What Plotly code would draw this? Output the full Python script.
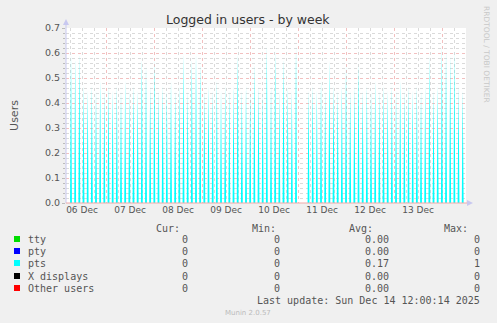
import plotly.graph_objects as go
import pandas as pd

# ---------------- data ----------------
title = "Logged in users - by week"
range_start = "2025-12-06 04:00"
range_end = "2025-12-14 11:59"
first_spike = "2025-12-06 06:30"
spike_step_minutes = 125          # spacing of the periodic logins
sample_half_minutes = 28          # half width of one rrd sample spike

# pts peak values (30 min averages), one per periodic login
pts_peaks = [
    0.60, 0.58, 0.60, 0.47, 0.45, 0.47, 0.45, 0.49, 0.45, 0.47,
    0.45, 0.47, 0.45, 0.49, 0.45, 0.47, 0.45, 0.58, 0.55, 0.47,
    0.58, 0.45, 0.47, 0.45, 0.49, 0.45, 0.47, 0.60, 0.45, 0.58,
    0.60, 0.56, 0.45, 0.47, 0.45, 0.49, 0.45, 0.47, 0.45, 0.47,
    0.60, 0.45, 0.47, 0.45, 0.56, 0.47, 0.45, 0.63, 0.47, 0.61,
    0.45, 0.58, 0.47, 0.45, 0.63, 0.00, 0.00, 0.45, 0.47, 0.45,
    0.49, 0.45, 0.57, 0.47, 0.45, 0.47, 0.56, 0.45, 0.47, 0.56,
    0.45, 0.47, 0.45, 0.49, 0.45, 0.47, 0.45, 0.47, 0.45, 0.49,
    0.45, 0.47, 0.45, 0.47, 0.45, 0.47, 0.59, 0.45, 0.47, 0.63,
    0.61, 0.59, 0.61, 0.47, 0.45,
]

series_names = ["tty", "pty", "pts", "X displays", "Other users"]
series_colors = ["#00dd00", "#0000ff", "#00ffff", "#000000", "#ff0000"]
cur_vals = ["0", "0", "0", "0", "0"]
min_vals = ["0", "0", "0", "0", "0"]
avg_vals = ["0.00", "0.00", "0.17", "0.00", "0.00"]
max_vals = ["0", "0", "1", "0", "0"]
last_update = "Last update: Sun Dec 14 12:00:14 2025"
version = "Munin 2.0.57"
y_ticks = [0.0, 0.1, 0.2, 0.3, 0.4, 0.5, 0.6, 0.7]

# ---------------- build series ----------------
half = pd.Timedelta(minutes=sample_half_minutes)
t0 = pd.Timestamp(first_spike)
xs = [pd.Timestamp(range_start)]
ys = [0.0]
for k, h in enumerate(pts_peaks):
    t = t0 + pd.Timedelta(minutes=spike_step_minutes * k)
    xs += [t - half, t, t + half]
    ys += [0.0, h, 0.0]
xs.append(pd.Timestamp(range_end))
ys.append(0.0)

W, H = 497, 323
L, R, T, B = 66, 31, 28, 120
PW, PH = W - L - R, H - T - B


def px(x):
    return (x - L) / PW


def py(y):
    return (H - B - y) / PH


fig = go.Figure()
fig.add_trace(go.Scatter(
    x=xs, y=ys, mode="lines", fill="tozeroy",
    fillcolor="#00ffff", line=dict(color="#00ffff", width=0),
    hoverinfo="skip", showlegend=False,
))

grey = "#555555"
fig.update_layout(
    width=W, height=H,
    margin=dict(l=L, r=R, t=T, b=B),
    paper_bgcolor="#f0f0f0",
    plot_bgcolor="#ffffff",
    showlegend=False,
    font=dict(family="DejaVu Sans", size=9, color=grey),
)

fig.update_xaxes(
    type="date",
    range=[range_start, range_end],
    tick0="2025-12-06", dtick=86400000,
    ticklabelmode="period", tickformat="%d %b",
    showgrid=True, gridcolor="#f2c0c0", griddash="dot", gridwidth=1,
    minor=dict(dtick=6 * 3600000, showgrid=True, gridcolor="#dadada",
               griddash="dot", gridwidth=1),
    ticks="", showline=False, zeroline=False,
    tickfont=dict(size=9, color=grey),
)
fig.update_yaxes(
    range=[0, 0.7],
    tickvals=y_ticks, ticktext=[f"{v:.1f}" for v in y_ticks],
    showgrid=True, gridcolor="#f2c0c0", griddash="dot", gridwidth=1,
    minor=dict(dtick=0.02, showgrid=True, gridcolor="#dadada",
               griddash="dot", gridwidth=1, ticks="outside", ticklen=2,
               tickcolor="#bbbbbb"),
    ticks="outside", ticklen=3, tickcolor="#bbbbbb",
    showline=False, zeroline=False,
    tickfont=dict(size=9.5, color=grey),
    title=dict(text="Users", font=dict(size=11, color=grey), standoff=24),
)

shapes = []
axis_col = "#c8c8f0"
shapes.append(dict(type="line", xref="paper", yref="paper",
                   x0=px(66), x1=px(66), y0=py(203), y1=py(22),
                   line=dict(color=axis_col, width=1)))
shapes.append(dict(type="path", xref="paper", yref="paper",
                   path=f"M {px(63)} {py(25)} L {px(69)} {py(25)} L {px(66)} {py(19)} Z",
                   fillcolor=axis_col, line=dict(color=axis_col, width=0)))
shapes.append(dict(type="line", xref="paper", yref="paper",
                   x0=px(66), x1=px(469), y0=py(203), y1=py(203),
                   line=dict(color="#f0a8a8", width=1)))
shapes.append(dict(type="path", xref="paper", yref="paper",
                   path=f"M {px(467)} {py(200)} L {px(467)} {py(206)} L {px(473)} {py(203)} Z",
                   fillcolor=axis_col, line=dict(color=axis_col, width=0)))

ann = []
ann.append(dict(text=title, x=px(248), y=py(19), xref="paper", yref="paper",
                showarrow=False, xanchor="center", yanchor="middle",
                font=dict(family="DejaVu Sans", size=12.5, color="#333333")))
ann.append(dict(text="RRDTOOL / TOBI OETIKER", x=px(487), y=py(54),
                xref="paper", yref="paper", showarrow=False, textangle=90,
                xanchor="center", yanchor="middle",
                font=dict(family="DejaVu Sans", size=7.5, color="#c8c8c8")))

mono = dict(family="DejaVu Sans Mono", size=10, color=grey)
col_right = [190, 282, 391, 482]
headers = ["Cur:", "Min:", "Avg:", "Max:"]
header_right = [182, 278, 375, 470]
for hx, htxt in zip(header_right, headers):
    ann.append(dict(text=htxt, x=px(hx), y=py(228), xref="paper", yref="paper",
                    showarrow=False, xanchor="right", yanchor="middle", font=mono))

row_y = [239, 251, 263, 276, 288]
for i, name in enumerate(series_names):
    yy = row_y[i]
    shapes.append(dict(type="rect", xref="paper", yref="paper",
                       x0=px(14), x1=px(20), y0=py(yy + 3), y1=py(yy - 3),
                       fillcolor=series_colors[i], line=dict(width=0)))
    ann.append(dict(text=name, x=px(26), y=py(yy), xref="paper", yref="paper",
                    showarrow=False, xanchor="left", yanchor="middle", font=mono))
    for cx, vals in zip(col_right, [cur_vals, min_vals, avg_vals, max_vals]):
        ann.append(dict(text=vals[i], x=px(cx), y=py(yy), xref="paper", yref="paper",
                        showarrow=False, xanchor="right", yanchor="middle", font=mono))

ann.append(dict(text=last_update, x=px(482), y=py(300), xref="paper", yref="paper",
                showarrow=False, xanchor="right", yanchor="middle", font=mono))
ann.append(dict(text=version, x=px(248), y=py(313), xref="paper", yref="paper",
                showarrow=False, xanchor="center", yanchor="middle",
                font=dict(family="DejaVu Sans", size=7, color="#bbbbbb")))

fig.update_layout(shapes=shapes, annotations=ann)
fig.write_html("out.html")
